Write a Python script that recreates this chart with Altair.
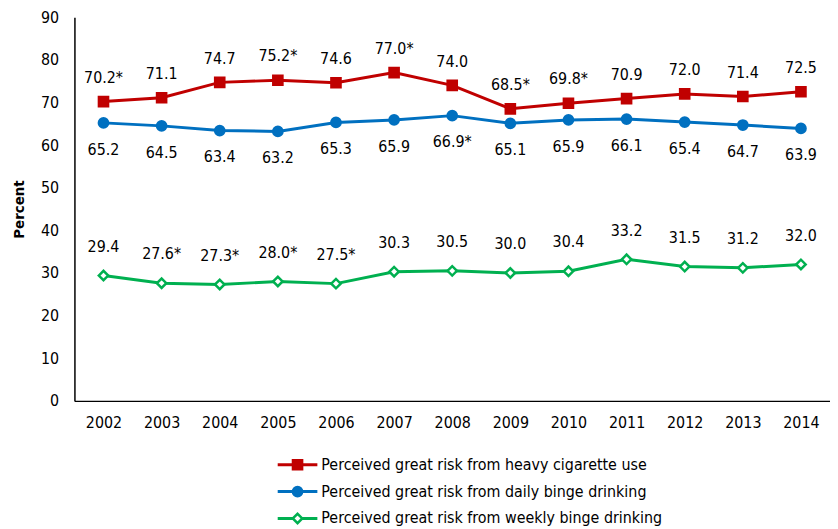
import altair as alt
import pandas as pd

years = [str(y) for y in range(2002, 2015)]
series_names = [
    "Perceived great risk from heavy cigarette use",
    "Perceived great risk from daily binge drinking",
    "Perceived great risk from weekly binge drinking",
]
cig = [70.2, 71.1, 74.7, 75.2, 74.6, 77.0, 74.0, 68.5, 69.8, 70.9, 72.0, 71.4, 72.5]
cig_labels = ["70.2*", "71.1", "74.7", "75.2*", "74.6", "77.0*", "74.0", "68.5*", "69.8*", "70.9", "72.0", "71.4", "72.5"]
daily = [65.2, 64.5, 63.4, 63.2, 65.3, 65.9, 66.9, 65.1, 65.9, 66.1, 65.4, 64.7, 63.9]
daily_labels = ["65.2", "64.5", "63.4", "63.2", "65.3", "65.9", "66.9*", "65.1", "65.9", "66.1", "65.4", "64.7", "63.9"]
weekly = [29.4, 27.6, 27.3, 28.0, 27.5, 30.3, 30.5, 30.0, 30.4, 33.2, 31.5, 31.2, 32.0]
weekly_labels = ["29.4", "27.6*", "27.3*", "28.0*", "27.5*", "30.3", "30.5", "30.0", "30.4", "33.2", "31.5", "31.2", "32.0"]

colors = ["#C00000", "#0070C0", "#00B050"]
fills = ["#C00000", "#0070C0", "#FFFFFF"]
shapes = ["square", "circle", "diamond"]
sizes = [85, 90, 120]

FONT = "DejaVu Sans Condensed, sans-serif"
FS = 16

rows = []
for name, vals, labs in zip(series_names, [cig, daily, weekly], [cig_labels, daily_labels, weekly_labels]):
    for y, v, l in zip(years, vals, labs):
        rows.append({"series": name, "year": y, "value": v, "label": l})
df = pd.DataFrame(rows)

stroke_scale = alt.Scale(domain=series_names, range=colors)
fill_scale = alt.Scale(domain=series_names, range=fills)
shape_scale = alt.Scale(domain=series_names, range=shapes)
size_scale = alt.Scale(domain=series_names, range=sizes)

x_enc = alt.X("year:O", scale=alt.Scale(type="point", padding=0.5),
              axis=alt.Axis(title=None, labelAngle=0, ticks=False, labelPadding=14,
                            domainColor="#000000", domainWidth=1.5, labelFont=FONT,
                            labelFontSize=FS, labelColor="#000000", grid=False))
y_enc = alt.Y("value:Q", scale=alt.Scale(domain=[0, 90], nice=False),
              axis=alt.Axis(title="Percent", values=list(range(0, 91, 10)), ticks=False,
                            labelPadding=16, domainColor="#000000", domainWidth=1.5,
                            labelFont=FONT, labelFontSize=FS, labelColor="#000000",
                            titleFont=FONT, titleFontSize=15, titleFontWeight="bold",
                            titleColor="#000000", titlePadding=14, grid=False))

base = alt.Chart(df)

line = base.mark_line(strokeWidth=3).encode(
    x=x_enc, y=y_enc,
    stroke=alt.Stroke("series:N", scale=stroke_scale, legend=None),
    detail="series:N",
)
points = base.mark_point(filled=False, strokeWidth=2.5, opacity=1).encode(
    x=x_enc, y=y_enc,
    stroke=alt.Stroke("series:N", scale=stroke_scale, legend=None),
    fill=alt.Fill("series:N", scale=fill_scale, legend=None),
    shape=alt.Shape("series:N", scale=shape_scale, legend=None),
    size=alt.Size("series:N", scale=size_scale, legend=None),
)

def label_layer(name, dy):
    return base.transform_filter(alt.datum.series == name).mark_text(
        dy=dy, font=FONT, fontSize=FS, color="#000000", baseline="middle"
    ).encode(x=x_enc, y=y_enc, text="label:N")

main = alt.layer(
    line, points,
    label_layer(series_names[0], -24),
    label_layer(series_names[1], 27),
    label_layer(series_names[2], -29),
).properties(width=762, height=387)

# Legend drawn as a small chart below
leg_df = pd.DataFrame({
    "series": series_names,
    "x0": [0.0] * 3,
    "x1": [40.0] * 3,
    "xm": [20.0] * 3,
    "xt": [44.0] * 3,
})
lx = alt.Scale(domain=[-205, 557])
ly = alt.Scale(type="point", domain=series_names, padding=0.2)

leg_line = alt.Chart(leg_df).mark_rule(strokeWidth=3).encode(
    x=alt.X("x0:Q", scale=lx, axis=None), x2="x1:Q",
    y=alt.Y("series:N", scale=ly, axis=None),
    color=alt.Color("series:N", scale=stroke_scale, legend=None),
)
leg_pts = alt.Chart(leg_df).mark_point(filled=False, strokeWidth=2.5, opacity=1).encode(
    x=alt.X("xm:Q", scale=lx, axis=None),
    y=alt.Y("series:N", scale=ly, axis=None),
    stroke=alt.Stroke("series:N", scale=stroke_scale, legend=None),
    fill=alt.Fill("series:N", scale=fill_scale, legend=None),
    shape=alt.Shape("series:N", scale=shape_scale, legend=None),
    size=alt.Size("series:N", scale=alt.Scale(domain=series_names, range=[50, 60, 80]), legend=None),
)
leg_txt = alt.Chart(leg_df).mark_text(align="left", baseline="middle", font=FONT,
                                       fontSize=FS, color="#000000").encode(
    x=alt.X("xt:Q", scale=lx, axis=None),
    y=alt.Y("series:N", scale=ly, axis=None),
    text="series:N",
)
legend = alt.layer(leg_line, leg_pts, leg_txt).properties(width=762, height=65)

chart = alt.vconcat(main, legend, spacing=24).configure_view(stroke=None).properties(
    padding={"left": 3, "top": -1, "right": 0, "bottom": 0}
)

chart.save("out.html", embed_options={"renderer": "svg", "actions": False})
